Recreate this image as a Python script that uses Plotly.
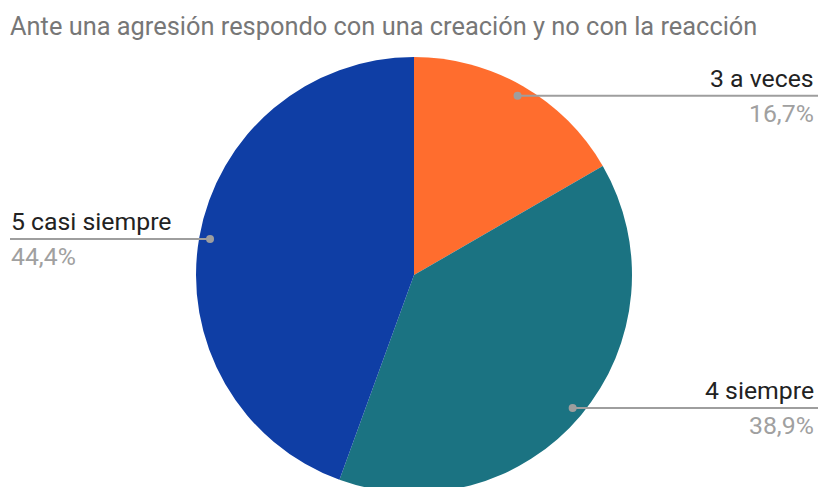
import math
import plotly.graph_objects as go

# Survey answers and their counts
labels = ["3 a veces", "4 siempre", "5 casi siempre"]
counts = [3, 7, 8]
colors = ["#FF6D2E", "#1B7382", "#0F3EA5"]
title_text = "Ante una agresión respondo con una creación y no con la reacción"

W, H = 820, 494
CX, CY, R = 414, 275, 218          # pie centre / radius in pixels
DOT_R = 0.95 * R                    # where leader lines touch the slices
FS = 24.8

def px(x):
    return x / W

def py(y):
    return (H - y) / H

fig = go.Figure(go.Pie(
    labels=labels,
    values=counts,
    marker=dict(colors=colors, line=dict(width=0)),
    sort=False,
    direction="clockwise",
    rotation=0,
    textinfo="none",
    hoverinfo="label+percent",
    showlegend=False,
    domain=dict(x=[px(CX - R), px(CX + R)], y=[py(CY + R), py(CY - R)]),
))

total = sum(counts)
shapes, annotations = [], []
cum = 0
for lab, v in zip(labels, counts):
    mid = (cum + v / 2) / total * 2 * math.pi
    cum += v
    dx = CX + DOT_R * math.sin(mid)
    dy = CY - DOT_R * math.cos(mid)
    right = math.sin(mid) >= 0
    x_end = 818 if right else 10
    shapes.append(dict(type="line", xref="paper", yref="paper",
                       x0=px(dx), y0=py(dy), x1=px(x_end), y1=py(dy),
                       line=dict(color="#9E9E9E", width=2)))
    shapes.append(dict(type="circle", xref="paper", yref="paper",
                       x0=px(dx - 4), x1=px(dx + 4), y0=py(dy + 4), y1=py(dy - 4),
                       fillcolor="#9E9E9E", line=dict(width=0)))
    pct = f"{v / total * 100:.1f}".replace(".", ",") + "%"
    tx = 816 if right else 9
    anchor = "right" if right else "left"
    annotations.append(dict(text=lab, x=px(tx), y=py(dy - 1), xref="paper", yref="paper",
                            xanchor=anchor, yanchor="bottom", showarrow=False,
                            font=dict(family="Roboto", size=FS, color="#222222")))
    annotations.append(dict(text=pct, x=px(tx), y=py(dy + 1), xref="paper", yref="paper",
                            xanchor=anchor, yanchor="top", showarrow=False,
                            font=dict(family="Roboto", size=FS, color="#A0A0A0")))

annotations.append(dict(text=title_text, x=px(8), y=py(26), xref="paper", yref="paper",
                        xanchor="left", yanchor="middle", showarrow=False,
                        font=dict(family="Roboto", size=25.4, color="#777777")))

fig.update_layout(
    width=W, height=H,
    margin=dict(l=0, r=0, t=0, b=0),
    paper_bgcolor="white",
    shapes=shapes,
    annotations=annotations,
)

fig.write_html("out.html", config={"displayModeBar": False},
               post_script="document.body.style.margin='0';document.body.style.overflow='hidden';")
